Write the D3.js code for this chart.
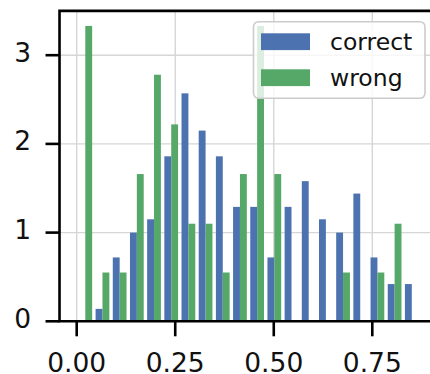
<!DOCTYPE html>
<html>
<head>
<meta charset="utf-8">
<script src="https://cdn.jsdelivr.net/npm/d3@7"></script>
<style>
	html, body { margin: 0; padding: 0; background: #fff; overflow: hidden; }
	svg { display: block; }
	text { font-family: "DejaVu Sans", sans-serif; fill: #111; }
</style>
</head>
<body>
<svg id="chart" width="430" height="374"></svg>
<script>

// histogram bins (left..right edges) and density per bin
let binEdges = [0, 0.0436, 0.0872, 0.1308, 0.1744, 0.218, 0.2616, 0.3052, 0.3488, 0.3924,
	0.436, 0.4796, 0.5232, 0.5668, 0.6104, 0.654, 0.6976, 0.7412, 0.7848, 0.8284, 0.872];
let correctDensity = [0, 0.14, 0.72, 1.0, 1.15, 1.86, 2.57, 2.15, 1.86, 1.29,
	1.29, 0.72, 1.29, 1.58, 1.15, 1.0, 1.44, 0.72, 0.42, 0.42];
let wrongDensity = [3.33, 0.55, 0.55, 1.66, 2.78, 2.22, 1.10, 1.10, 0.55, 1.66,
	3.33, 1.66, 0, 0, 0, 0.55, 0, 0.55, 1.10, 0];
let seriesNames = ['correct', 'wrong'];
let seriesColors = ['#4c72b0', '#55a868'];
let xTicks = [0, 0.25, 0.5, 0.75];
let yTicks = [0, 1, 2, 3];

let svg = d3.select('#chart');

// scales
let xScale = d3.scaleLinear().domain([0, 0.75]).range([76.7, 372.3]);
let yScale = d3.scaleLinear().domain([0, 3]).range([321.3, 55.2]);
let xMin = -0.0436, xMax = 0.9156, yMax = 3.5;
let plotL = xScale(xMin), plotR = xScale(xMax);
let plotT = yScale(yMax), plotB = yScale(0);
let tickFont = 26.5;

// grid
let grid = svg.append('g').attr('stroke', '#d6d6d6').attr('stroke-width', 1.4);
xTicks.forEach(t => grid.append('line')
	.attr('x1', xScale(t)).attr('x2', xScale(t))
	.attr('y1', plotT).attr('y2', plotB));
yTicks.forEach(t => grid.append('line')
	.attr('x1', plotL).attr('x2', plotR)
	.attr('y1', yScale(t)).attr('y2', yScale(t)));

// bars: two side by side in each bin
let bins = correctDensity.map((c, i) => ({
	x0: binEdges[i], x1: binEdges[i + 1], vals: [c, wrongDensity[i]]
}));
let inner = d3.scaleBand().domain(seriesNames).paddingInner(0).paddingOuter(0.25);

let barG = svg.append('g');
bins.forEach(b => {
	inner.range([xScale(b.x0), xScale(b.x1)]);
	seriesNames.forEach((s, k) => {
		if (b.vals[k] <= 0) return;
		barG.append('rect')
			.attr('x', inner(s))
			.attr('width', inner.bandwidth())
			.attr('y', yScale(b.vals[k]))
			.attr('height', yScale(0) - yScale(b.vals[k]))
			.attr('fill', seriesColors[k]);
	});
});

// spines
let spine = svg.append('g').attr('stroke', '#000').attr('stroke-width', 2.6).attr('fill', 'none');
spine.append('path')
	.attr('d', `M${plotR},${plotT}H${plotL}V${plotB}H${plotR}`)
	.attr('stroke-linecap', 'square');

// ticks + labels
xTicks.forEach(t => {
	svg.append('line')
		.attr('x1', xScale(t)).attr('x2', xScale(t))
		.attr('y1', plotB).attr('y2', plotB + 15)
		.attr('stroke', '#000').attr('stroke-width', 2.6);
	svg.append('text')
		.attr('x', xScale(t)).attr('y', 372)
		.attr('text-anchor', 'middle')
		.style('font-size', tickFont + 'px')
		.text(d3.format('.2f')(t));
});
yTicks.forEach(t => {
	svg.append('line')
		.attr('x1', plotL - 14).attr('x2', plotL)
		.attr('y1', yScale(t)).attr('y2', yScale(t))
		.attr('stroke', '#000').attr('stroke-width', 2.6);
	svg.append('text')
		.attr('x', 31).attr('y', yScale(t) + 6.5)
		.attr('text-anchor', 'end')
		.style('font-size', tickFont + 'px')
		.text(t);
});

// legend
let legend = svg.append('g');
legend.append('rect')
	.attr('x', 253.5).attr('y', 21.7)
	.attr('width', 171.5).attr('height', 76.6)
	.attr('rx', 5).attr('ry', 5)
	.attr('fill', '#fff').attr('fill-opacity', 0.8)
	.attr('stroke', '#cccccc').attr('stroke-width', 1.6);
seriesNames.forEach((s, k) => {
	let cy = 41.7 + k * 36;
	legend.append('rect')
		.attr('x', 261).attr('y', cy - 8.4)
		.attr('width', 49).attr('height', 16.8)
		.attr('fill', seriesColors[k]);
	legend.append('text')
		.attr('x', 330).attr('y', cy + 8.3)
		.style('font-size', '23.5px')
		.text(s);
});

</script>
</body>
</html>
